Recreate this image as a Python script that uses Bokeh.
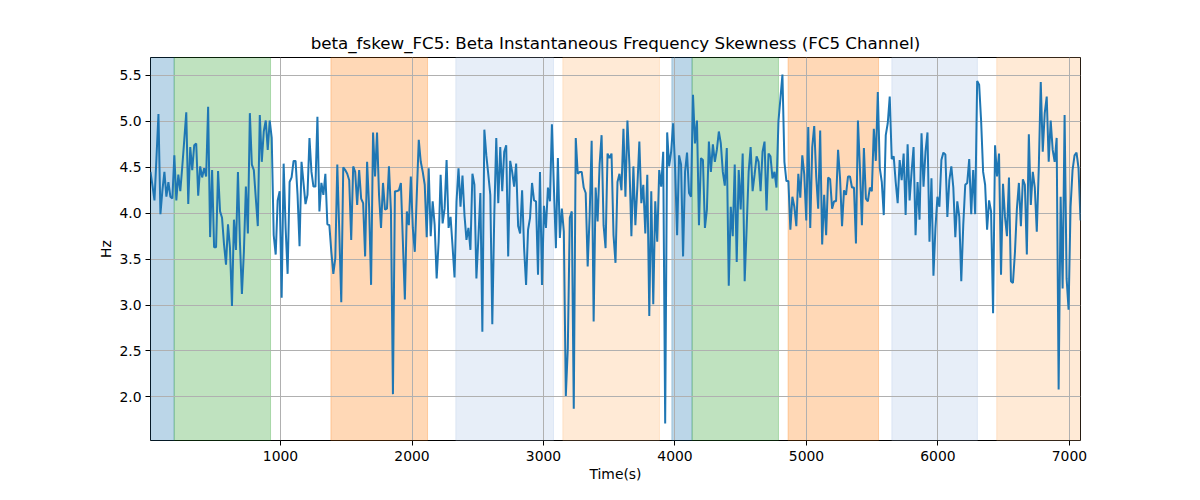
import numpy as np
from bokeh.plotting import figure
from bokeh.models import BoxAnnotation, FixedTicker, PrintfTickFormatter, Range1d
from bokeh.embed import file_html
from bokeh.resources import INLINE

# ---- data ----
values = [
    # 0 - ~800 s
    4.45, 4.30, 4.14, 4.60, 5.08, 3.99, 4.25, 4.45, 4.18, 4.34, 4.18, 4.16, 4.63, 4.14, 4.42, 4.24, 4.51,
    4.80, 5.10, 4.10, 4.72, 4.47, 4.74, 4.76, 4.19, 4.51, 4.39, 4.49, 4.40, 5.16, 3.74, 4.47, 3.63, 3.63,
    4.46, 4.02, 3.95, 3.66, 3.44, 3.88, 3.62, 2.99, 3.93, 3.60, 4.45, 3.69, 3.12, 3.58, 4.29, 3.78, 5.09,
    # ~800 - ~1600 s
    4.53, 4.47, 4.16, 3.86, 5.07, 4.56, 4.89, 5.01, 4.69, 5.01, 4.82, 3.76, 3.55, 4.14, 4.24, 3.08, 4.54,
    3.84, 3.34, 4.34, 4.39, 4.57, 4.57, 4.20, 3.64, 4.56, 4.33, 4.10, 4.20, 4.82, 4.45, 4.29, 4.29, 5.05,
    4.02, 4.33, 4.20, 4.43, 3.88, 3.87, 3.58, 3.34, 3.51, 4.53, 3.80, 3.03, 4.50, 4.47, 4.43, 4.36, 3.71, 4.51,
    # ~1600 - ~2400 s
    4.45, 4.09, 4.47, 4.16, 4.11, 3.53, 4.56, 4.07, 3.22, 4.88, 4.40, 4.88, 4.20, 3.84, 4.33, 4.04, 4.05,
    4.51, 4.02, 2.03, 4.24, 4.24, 4.25, 4.33, 3.69, 3.06, 4.02, 3.87, 4.40, 3.84, 3.58, 4.20, 4.80, 4.56,
    4.45, 4.31, 3.74, 4.49, 3.75, 4.13, 3.87, 3.29, 3.69, 4.42, 3.89, 4.05, 4.58, 3.84, 3.96, 3.64, 3.30, 4.13,
    # ~2400 - ~3200 s
    4.49, 4.07, 4.41, 3.98, 3.71, 3.84, 3.60, 4.43, 4.31, 3.29, 3.73, 4.22, 2.71, 4.91, 4.63, 4.42, 4.20,
    2.79, 3.98, 4.82, 4.11, 4.72, 4.24, 4.67, 4.74, 3.53, 4.57, 4.45, 4.29, 4.54, 3.86, 3.78, 4.25, 3.62,
    3.22, 3.82, 3.95, 4.33, 4.14, 4.13, 3.33, 4.45, 3.22, 4.08, 3.84, 4.28, 4.13, 4.97, 4.28, 3.62, 4.60, 3.73,
    # ~3200 - ~4000 s
    4.05, 3.80, 2.01, 2.53, 3.95, 4.02, 1.87, 4.82, 4.43, 4.45, 4.45, 4.28, 4.22, 3.42, 3.98, 4.79, 2.82,
    4.28, 3.91, 4.53, 4.85, 3.87, 3.62, 4.65, 4.60, 4.65, 3.76, 3.46, 4.34, 4.43, 4.25, 4.92, 4.18, 5.01,
    4.53, 3.75, 4.51, 3.87, 4.29, 4.78, 4.11, 4.31, 3.78, 4.42, 2.88, 4.24, 3.01, 4.13, 3.69, 4.47, 4.29,
    4.67, 1.71, 4.88,
    # ~4000 - ~4800 s
    4.51, 4.67, 4.98, 4.49, 3.76, 4.63, 4.53, 3.53, 4.45, 4.66, 4.22, 4.18, 5.29, 4.76, 5.01, 3.87, 4.60,
    4.58, 3.84, 4.04, 4.78, 4.45, 4.75, 4.56, 4.69, 4.89, 4.76, 4.45, 4.30, 4.71, 3.21, 4.07, 3.75, 4.53,
    3.47, 4.47, 4.04, 4.65, 3.26, 3.84, 4.45, 4.72, 4.24, 4.42, 4.62, 4.56, 4.24, 4.67, 4.78, 4.03, 4.65,
    4.62, 4.38,
    # ~4800 - ~5600 s
    4.45, 4.28, 5.00, 5.25, 5.51, 4.56, 4.35, 4.35, 3.82, 4.18, 4.07, 3.86, 4.43, 4.17, 4.63, 4.42, 3.92,
    4.94, 3.84, 4.72, 4.95, 4.40, 4.05, 4.90, 3.66, 4.20, 3.76, 4.39, 4.37, 4.05, 4.13, 4.13, 4.69, 4.38,
    3.86, 4.25, 4.20, 4.40, 4.40, 4.28, 4.28, 3.67, 5.01, 4.49, 3.87, 4.71, 4.16, 4.13, 4.28, 4.24, 4.92,
    4.57, 5.32,
    # ~5600 - ~6400 s
    4.49, 4.34, 3.98, 4.85, 4.98, 5.27, 4.59, 4.62, 4.34, 4.11, 4.58, 4.36, 4.65, 3.98, 4.75, 4.14, 4.45,
    4.72, 3.76, 4.34, 3.93, 4.87, 4.29, 4.67, 4.88, 3.69, 4.38, 3.32, 3.84, 4.18, 4.07, 4.58, 4.66, 4.64,
    3.96, 4.36, 4.51, 4.28, 3.74, 4.13, 3.96, 3.26, 3.87, 4.31, 4.33, 4.59, 3.99, 4.47, 3.99, 5.44, 5.40,
    # ~6400 - end
    5.00, 4.45, 4.31, 3.82, 4.14, 4.02, 2.91, 4.74, 4.40, 4.65, 3.33, 4.32, 3.96, 3.75, 4.39, 3.26, 3.24,
    3.57, 4.05, 4.33, 3.86, 4.37, 4.31, 3.55, 4.86, 4.09, 4.45, 4.28, 3.80, 4.49, 5.43, 4.67, 5.09, 5.27,
    4.56, 5.01, 4.69, 4.56, 4.82, 2.08, 4.18, 3.18, 5.07, 3.29, 2.95, 4.07, 4.47, 4.63, 4.66, 4.49, 3.92,
]
t_start = 11.0
t_end = 7084.0
times = np.linspace(t_start, t_end, len(values))

# shaded segments (start, end, colour)
span_starts = [11, 191, 1383, 2333, 3147, 3976, 4130, 4860, 5649, 6447]
span_ends = [191, 924, 2118, 3076, 3882, 4130, 4787, 5548, 6300, 7200]
span_colors = ["#1f77b4", "#2ca02c", "#ff7f0e", "#aec7e8", "#ffbb78",
               "#1f77b4", "#2ca02c", "#ff7f0e", "#aec7e8", "#ffbb78"]

x_ticks = [1000, 2000, 3000, 4000, 5000, 6000, 7000]
y_ticks = [2.0, 2.5, 3.0, 3.5, 4.0, 4.5, 5.0, 5.5]

title_text = "beta_fskew_FC5: Beta Instantaneous Frequency Skewness (FC5 Channel)"

FONT = "DejaVu Sans"

p = figure(width=1184, height=484, output_backend="svg", toolbar_location=None,
           x_range=Range1d(t_start, t_end), y_range=Range1d(1.525, 5.696),
           title=title_text, min_border_left=150, min_border_right=104,
           min_border_top=57, min_border_bottom=42)

p.title.align = "center"
p.title.text_font = FONT
p.title.text_font_size = "16.7px"
p.title.text_font_style = "normal"
p.title.text_color = "black"

for s, e, c in zip(span_starts, span_ends, span_colors):
    p.add_layout(BoxAnnotation(left=s, right=e, fill_color=c, fill_alpha=0.3,
                               line_color=c, line_alpha=0.3, line_width=1, level="image"))

p.line(times, values, line_color="#1f77b4", line_width=2)

p.outline_line_color = "black"
p.outline_line_width = 1
p.background_fill_color = "white"
p.border_fill_color = "white"

p.xaxis.ticker = FixedTicker(ticks=x_ticks)
p.yaxis.ticker = FixedTicker(ticks=y_ticks)
p.yaxis.formatter = PrintfTickFormatter(format="%.1f")
p.xaxis.axis_label = "Time(s)"
p.yaxis.axis_label = "Hz"

for ax in (p.xaxis, p.yaxis):
    ax.axis_line_color = None
    ax.major_tick_line_color = "black"
    ax.major_tick_out = 5
    ax.major_tick_in = 0
    ax.minor_tick_line_color = None
    ax.major_label_text_font = FONT
    ax.major_label_text_font_size = "13.9px"
    ax.major_label_text_color = "black"
    ax.axis_label_text_font = FONT
    ax.axis_label_text_font_size = "13.9px"
    ax.axis_label_text_font_style = "normal"
    ax.axis_label_text_color = "black"

p.xaxis.major_label_standoff = 5
p.xaxis.axis_label_standoff = 2
p.yaxis.major_label_standoff = 4
p.yaxis.axis_label_standoff = 2

p.xgrid.ticker = FixedTicker(ticks=x_ticks)
p.ygrid.ticker = FixedTicker(ticks=y_ticks)
p.grid.grid_line_color = "#b0b0b0"
p.grid.grid_line_width = 1

open("out.html", "w").write(file_html(p, INLINE))
